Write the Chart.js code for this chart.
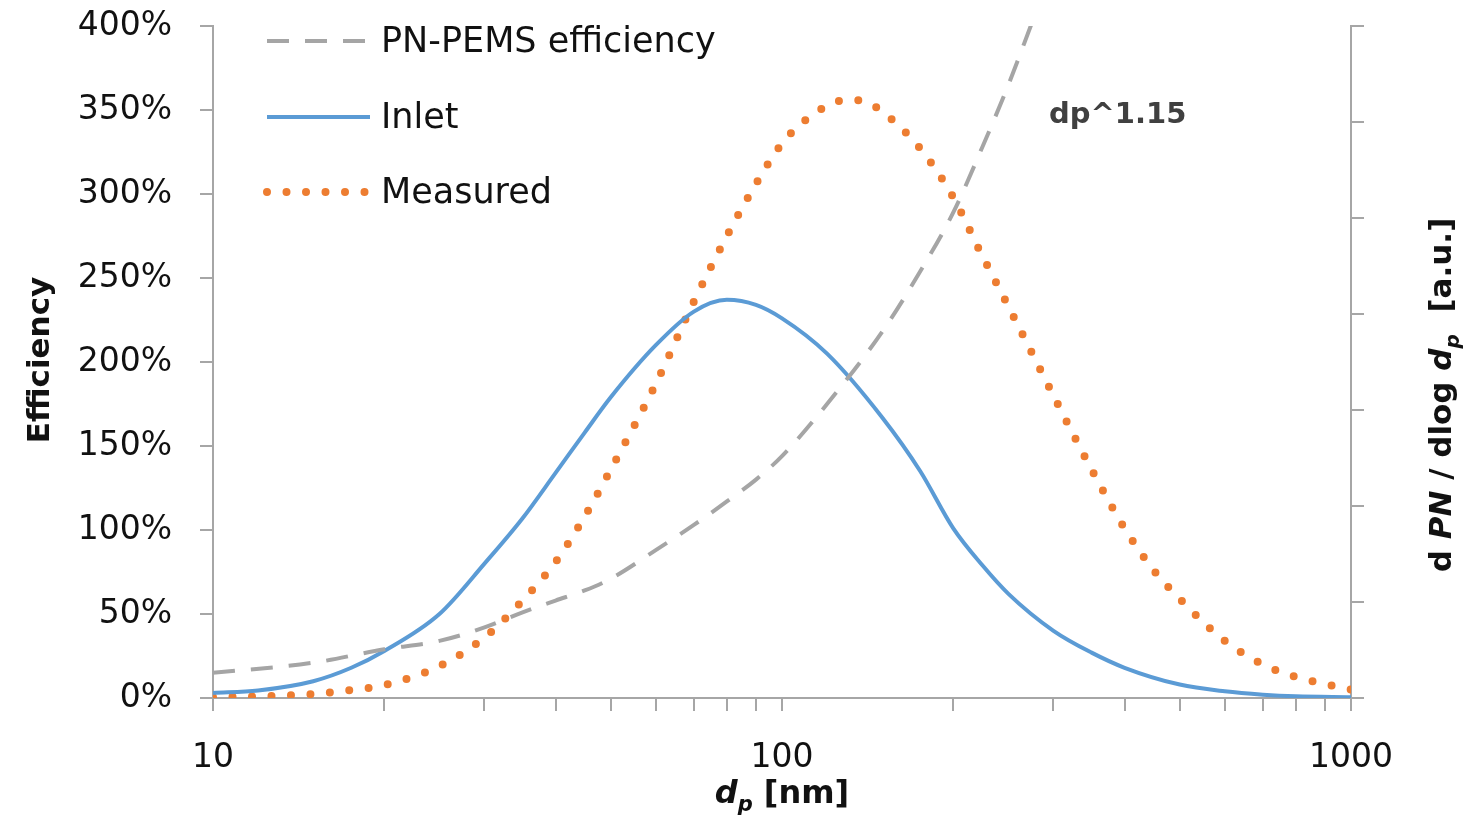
<!DOCTYPE html>
<html>
<head>
<meta charset="utf-8">
<script src="https://cdn.jsdelivr.net/npm/chart.js@4"></script>
<style>
  html, body { margin: 0; padding: 0; background: #fff; }
  canvas { display: block; }
</style>
</head>
<body>
<canvas id="effChart" width="1465" height="820"></canvas>
<script>
// PN-PEMS efficiency (grey dashed), in %
const pemsDp  = [10, 15, 20, 25, 30, 35, 40, 45, 50, 60, 70, 80, 90, 100, 120, 150, 175, 200, 225, 250, 275];
const pemsEff = [15, 21, 29, 34, 42, 51, 58, 64, 71, 88, 103, 117, 130, 144, 175, 218, 254, 289, 328, 365, 402];

// Inlet size distribution (blue solid), drawn on the % scale
const inletDp  = [10, 12, 15, 17.5, 20, 25, 30, 35, 40, 45, 50, 60, 70, 80, 90, 100, 120, 150, 175, 200, 225, 250, 300, 350, 400, 500, 600, 700, 800, 1000];
const inletVal = [3, 4.5, 10, 18, 28, 50, 80, 107, 134, 158, 179, 210, 230, 237, 234, 226, 205, 167, 135, 101, 79, 62, 40, 27, 18, 8, 4, 2, 1, 0.5];

// Measured distribution (orange dotted)
const measDp  = [10, 12, 15, 17.5, 20, 25, 30, 35, 40, 45, 50, 60, 70, 80, 90, 100, 112, 130, 140, 150, 175, 200, 222, 250, 300, 350, 400, 450, 500, 600, 700, 800, 900, 1000];
const measVal = [0.5, 1, 2.4, 4.8, 7.7, 19, 36, 58, 81, 108, 136, 187, 236, 275, 306, 330, 346, 356, 355, 349, 327, 298, 267, 233, 180, 136, 101, 76, 59, 34, 20, 12.5, 8.3, 5];

// axis ticks
const xTickValues = [10, 20, 30, 40, 50, 60, 70, 80, 90, 100, 200, 300, 400, 500, 600, 700, 800, 900, 1000];
const xLabels = [10, 100, 1000];

const seriesNames = ['PN-PEMS efficiency', 'Inlet', 'Measured'];

const AXIS = '#a6a6a6';
const TXT = '#111';

function pts(xs, ys) {
  return xs.map((x, i) => ({ x: x, y: ys[i] }));
}

// draw a list of text pieces one after another, centred on x
function drawRuns(ctx, runs, cx, cy) {
  let total = 0;
  runs.forEach(r => { ctx.font = r.font; total += ctx.measureText(r.text).width; });
  let x = cx - total / 2;
  runs.forEach(r => {
    ctx.font = r.font;
    ctx.fillText(r.text, x, cy + (r.dy || 0));
    x += ctx.measureText(r.text).width;
  });
}

const decorations = {
  id: 'decorations',
  afterDraw(chart) {
    const ctx = chart.ctx;
    const ds = chart.data.datasets;
    ctx.save();

    // legend inside plot, top left
    const rows = [41, 117, 192];
    ds.forEach((d, i) => {
      ctx.save();
      ctx.strokeStyle = d.borderColor;
      ctx.lineWidth = d.borderWidth;
      ctx.lineCap = d.borderCapStyle || 'butt';
      ctx.setLineDash(d.borderDash || []);
      ctx.beginPath();
      ctx.moveTo(267, rows[i]);
      ctx.lineTo(370, rows[i]);
      ctx.stroke();
      ctx.restore();
      ctx.fillStyle = TXT;
      ctx.font = '35px "DejaVu Sans"';
      ctx.textBaseline = 'middle';
      ctx.textAlign = 'left';
      ctx.fillText(d.label, 381, rows[i] + 2);
    });

    // annotation
    ctx.fillStyle = '#404040';
    ctx.font = 'bold 29px "DejaVu Sans"';
    ctx.textAlign = 'left';
    ctx.textBaseline = 'middle';
    ctx.fillText('dp^1.15', 1049, 115);

    ctx.fillStyle = TXT;
    ctx.textAlign = 'left';
    ctx.textBaseline = 'alphabetic';

    // x axis title
    drawRuns(ctx, [
      { text: 'd', font: 'italic bold 32px "DejaVu Sans"' },
      { text: 'p', font: 'italic bold 21px "DejaVu Sans"', dy: 8 },
      { text: ' [nm]', font: 'bold 32px "DejaVu Sans"' }
    ], 782, 803);

    // left y title
    ctx.save();
    ctx.translate(49, 360);
    ctx.rotate(-Math.PI / 2);
    drawRuns(ctx, [{ text: 'Efficiency', font: 'bold 31px "DejaVu Sans"' }], 0, 0);
    ctx.restore();

    // right y title
    ctx.save();
    ctx.translate(1451, 395);
    ctx.rotate(-Math.PI / 2);
    drawRuns(ctx, [
      { text: 'd ', font: 'bold 31px "DejaVu Sans"' },
      { text: 'PN', font: 'italic bold 31px "DejaVu Sans"' },
      { text: ' / dlog ', font: 'bold 31px "DejaVu Sans"' },
      { text: 'd', font: 'italic bold 31px "DejaVu Sans"' },
      { text: 'p', font: 'italic bold 20px "DejaVu Sans"', dy: 8 },
      { text: '  [a.u.]', font: 'bold 31px "DejaVu Sans"' }
    ], 0, 0);
    ctx.restore();

    ctx.restore();
  }
};

const chartData = {
  datasets: [
    {
      label: seriesNames[0],
      data: pts(pemsDp, pemsEff),
      borderColor: '#a5a5a5',
      borderWidth: 4,
      borderDash: [22, 16],
      borderCapStyle: 'butt',
      pointRadius: 0,
      cubicInterpolationMode: 'monotone',
      yAxisID: 'y'
    },
    {
      label: seriesNames[1],
      data: pts(inletDp, inletVal),
      borderColor: '#5b9bd5',
      borderWidth: 4,
      borderCapStyle: 'butt',
      pointRadius: 0,
      cubicInterpolationMode: 'monotone',
      yAxisID: 'y'
    },
    {
      label: seriesNames[2],
      data: pts(measDp, measVal),
      borderColor: '#ed7d31',
      borderWidth: 8,
      borderDash: [0, 19.5],
      borderCapStyle: 'round',
      pointRadius: 0,
      cubicInterpolationMode: 'monotone',
      yAxisID: 'y'
    }
  ]
};

// vertical axes: fixed width, and no extra top/bottom padding from tick labels
function fixVertical(width) {
  return function (scale) {
    scale.width = width;
    scale.paddingTop = 0;
    scale.paddingBottom = 0;
  };
}

const config = {
  type: 'line',
  data: chartData,
  options: {
    responsive: false,
    animation: false,
    layout: { padding: { top: 26, left: 0, right: 0, bottom: 0 } },
    plugins: {
      legend: { display: false },
      tooltip: { enabled: false }
    },
    scales: {
      x: {
        type: 'logarithmic',
        min: 10,
        max: 1000,
        afterBuildTicks: function (scale) {
          scale.ticks = xTickValues.map(v => ({ value: v }));
        },
        afterFit: function (scale) {
          scale.height = 122;
          scale.paddingLeft = 0;
          scale.paddingRight = 0;
        },
        ticks: {
          autoSkip: false,
          maxRotation: 0,
          minRotation: 0,
          padding: 28,
          color: TXT,
          font: { family: 'DejaVu Sans', size: 33 },
          callback: function (value) {
            return xLabels.includes(value) ? String(value) : '';
          }
        },
        grid: { drawOnChartArea: false, drawTicks: true, tickLength: 13, color: AXIS, lineWidth: 2 },
        border: { color: AXIS, width: 2 }
      },
      y: {
        position: 'left',
        min: 0,
        max: 400,
        afterFit: fixVertical(213),
        ticks: {
          stepSize: 50,
          padding: 28,
          color: TXT,
          font: { family: 'DejaVu Sans', size: 33 },
          callback: v => v + '%'
        },
        grid: { drawOnChartArea: false, drawTicks: true, tickLength: 13, color: AXIS, lineWidth: 2 },
        border: { color: AXIS, width: 2 }
      },
      y2: {
        position: 'right',
        min: 0,
        max: 7,
        afterFit: fixVertical(114),
        ticks: { stepSize: 1, display: false },
        grid: { drawOnChartArea: false, drawTicks: true, tickLength: 13, color: AXIS, lineWidth: 2 },
        border: { color: AXIS, width: 2 }
      }
    }
  },
  plugins: [decorations]
};

try {
  const ctx = document.getElementById('effChart').getContext('2d');
  new Chart(ctx, config);
} catch (error) {
  console.error('Error rendering the chart:', error);
}
</script>
</body>
</html>
